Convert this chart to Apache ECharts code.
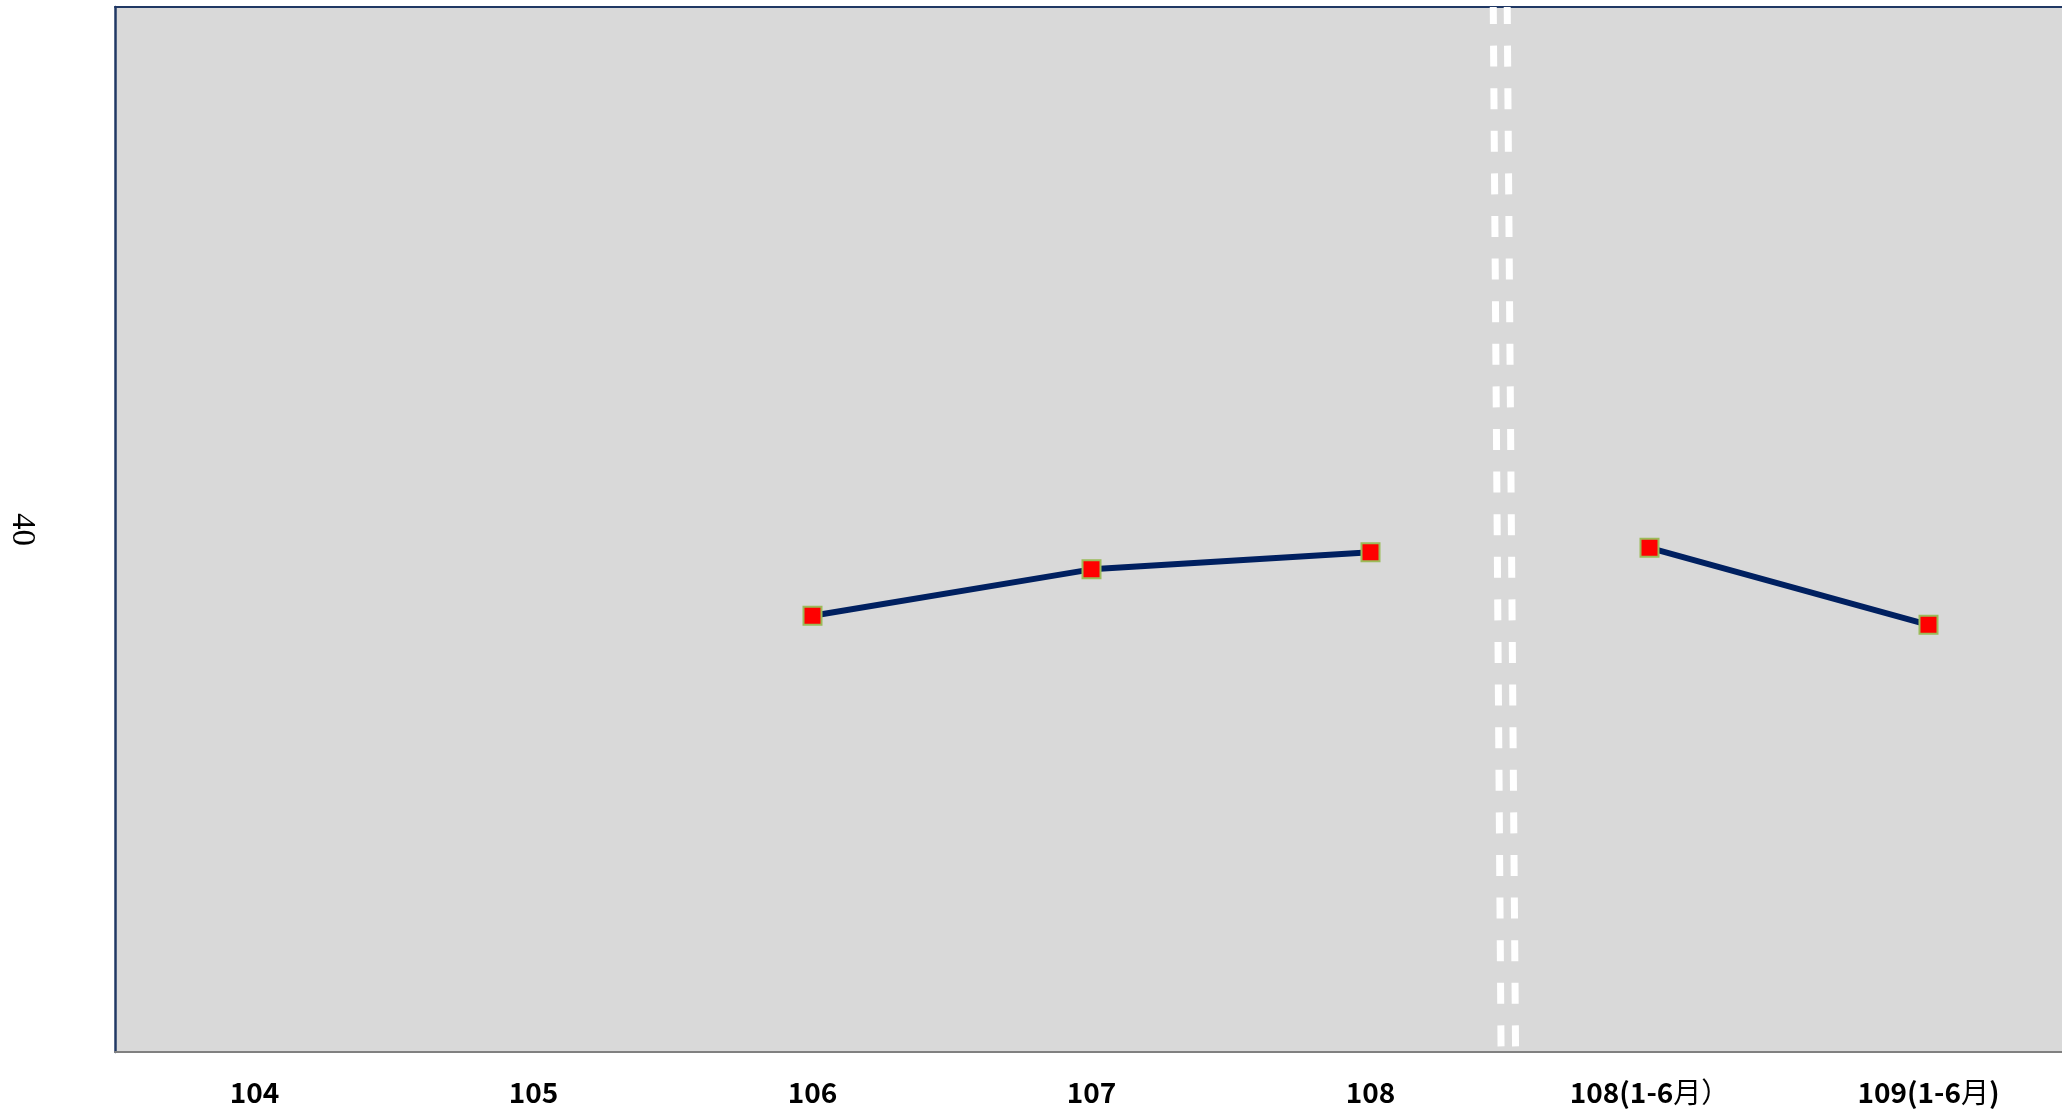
<!DOCTYPE html>
<html>
<head>
<meta charset="utf-8">
<script src="https://cdn.jsdelivr.net/npm/echarts@6/dist/echarts.min.js"></script>
<style>
  html, body { margin: 0; padding: 0; background: #ffffff; }
  #chart { width: 2062px; height: 1116px; }
</style>
</head>
<body>
<div id="chart"></div>
<script>
// ---- data ----
var categories = ['104', '105', '106', '107', '108', '108(1-6月）', '109(1-6月)'];
var annualValues = [null, null, 33.4, 36.95, 38.25, null, null];
var halfYearValues = [null, null, null, null, null, 38.6, 32.7];
var yTickLabels = ['40'];
// axis-break marks in band units (top x, bottom x) for the two dashed strokes
var breakMarkA = [[4.940, 80], [4.968, 0]];
var breakMarkB = [[4.990, 80], [5.020, 0]];

var chart = echarts.init(document.getElementById('chart'), null, { renderer: 'canvas' });

var lineStyleMain = { color: '#002060', width: 6 };
var markerStyle = { color: '#FF0000', borderColor: '#9BBB59', borderWidth: 2 };
var dashStyle = { color: '#ffffff', width: 7, type: [21, 21.6], dashOffset: 4, cap: 'butt' };

function richLabel(s) {
  // ASCII runs bold, CJK runs regular (as in the original)
  var out = '', run = '', cur = null;
  for (var i = 0; i < s.length; i++) {
    var t = s.charCodeAt(i) < 128 ? 'a' : 'c';
    if (t !== cur && run) { out += '{' + cur + '|' + run + '}'; run = ''; }
    cur = t; run += s[i];
  }
  if (run) out += '{' + cur + '|' + run + '}';
  return out;
}

var labelFont = "'Noto Sans CJK SC', 'Noto Sans', sans-serif";

var option = {
  animation: false,
  backgroundColor: '#ffffff',
  grid: {
    left: 115, top: 7, width: 1953, height: 1045,
    outerBoundsMode: 'none',
    containLabel: false,
    show: true, backgroundColor: '#D9D9D9', borderWidth: 0
  },
  xAxis: [
    {
      type: 'category',
      data: categories,
      boundaryGap: true,
      axisLine: { show: true, lineStyle: { color: '#808080', width: 2 } },
      axisTick: { show: false },
      splitLine: { show: false },
      axisLabel: {
        margin: 26,
        interval: 0,
        color: '#000000',
        formatter: richLabel,
        rich: {
          a: { fontWeight: 'bold', fontSize: 28, fontFamily: labelFont, color: '#000000' },
          c: { fontWeight: 'normal', fontSize: 28, fontFamily: labelFont, color: '#000000' }
        }
      }
    },
    {
      type: 'value',
      position: 'top',
      min: 0, max: 7,
      axisLine: { show: true, onZero: false, lineStyle: { color: '#203864', width: 2 } },
      axisTick: { show: false },
      axisLabel: { show: false },
      splitLine: { show: false }
    }
  ],
  yAxis: {
    type: 'value',
    min: 0, max: 80, interval: 40,
    axisLine: { show: true, lineStyle: { color: '#203864', width: 2.5 } },
    axisTick: { show: false },
    splitLine: { show: false },
    axisLabel: {
      rotate: -90,
      margin: 77,
      color: '#000000',
      fontSize: 33,
      fontFamily: "'Liberation Serif', 'DejaVu Serif', serif",
      formatter: function (v) { return yTickLabels.indexOf(String(v)) >= 0 ? String(v) : ''; }
    }
  },
  series: [
    { type: 'line', xAxisIndex: 1, data: breakMarkA, symbol: 'none', silent: true, z: 5, lineStyle: dashStyle },
    { type: 'line', xAxisIndex: 1, data: breakMarkB, symbol: 'none', silent: true, z: 5, lineStyle: dashStyle },
    {
      type: 'line', xAxisIndex: 0, data: annualValues, symbol: 'rect', symbolSize: 18,
      connectNulls: false, lineStyle: lineStyleMain, itemStyle: markerStyle, z: 10
    },
    {
      type: 'line', xAxisIndex: 0, data: halfYearValues, symbol: 'rect', symbolSize: 18,
      connectNulls: false, lineStyle: lineStyleMain, itemStyle: markerStyle, z: 10
    }
  ]
};
chart.setOption(option);
</script>
</body>
</html>
